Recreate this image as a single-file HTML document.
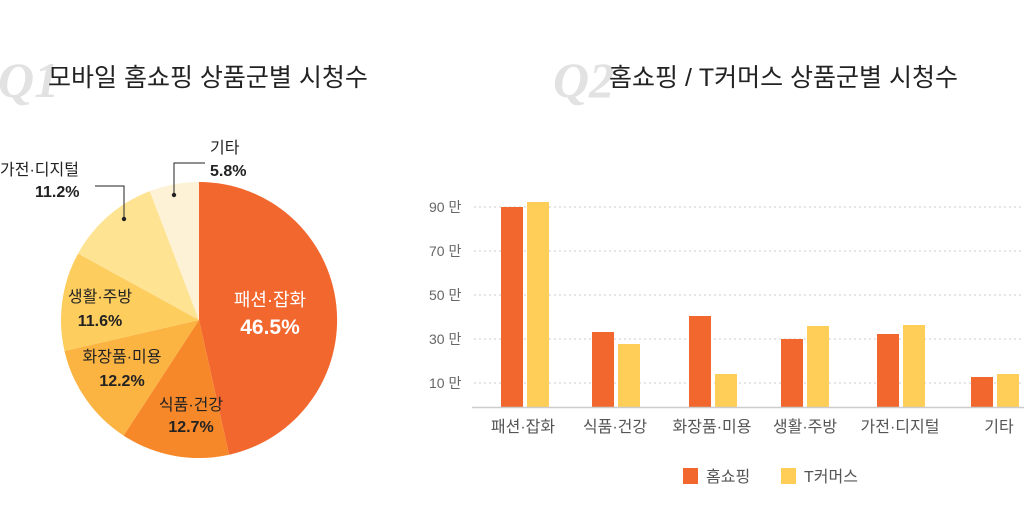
<!DOCTYPE html>
<html><head><meta charset="utf-8"><style>
body{margin:0;width:1024px;height:515px;background:#fff;overflow:hidden;font-family:"Liberation Sans","Noto Sans CJK KR",sans-serif}
</style></head><body>
<svg width="1024" height="515" xmlns="http://www.w3.org/2000/svg" font-family="Liberation Sans, Noto Sans CJK KR, sans-serif">
<text x="-2" y="97" font-family="Liberation Serif, serif" font-style="italic" font-weight="bold" font-size="50" fill="#e2e2e2">Q1</text>
<text x="48" y="86" font-size="25" fill="#222">모바일 홈쇼핑 상품군별 시청수</text>
<text x="553" y="97" font-family="Liberation Serif, serif" font-style="italic" font-weight="bold" font-size="50" fill="#e2e2e2">Q2</text>
<text x="609" y="86" font-size="25" fill="#222">홈쇼핑 / T커머스 상품군별 시청수</text>

<g>
<path d="M199,320 L199,182 A138,138 0 0 1 229.1,454.7 Z" fill="#F2672E"/>
<path d="M199,320 L229.1,454.7 A138,138 0 0 1 123.6,435.6 Z" fill="#F7882A"/>
<path d="M199,320 L123.6,435.6 A138,138 0 0 1 64.5,351 Z" fill="#FBB342"/>
<path d="M199,320 L64.5,351 A138,138 0 0 1 78.1,253.5 Z" fill="#FDCD5E"/>
<path d="M199,320 L78.1,253.5 A138,138 0 0 1 149.8,191.1 Z" fill="#FEE393"/>
<path d="M199,320 L149.8,191.1 A138,138 0 0 1 199,182 Z" fill="#FEF2D6"/>
</g>
<g text-anchor="middle">
<text x="270" y="306" font-size="18" fill="#fff">패션·잡화</text>
<text x="270" y="334" font-size="21" font-weight="bold" fill="#fff">46.5%</text>
<text x="191" y="410" font-size="16" fill="#222">식품·건강</text>
<text x="191" y="432" font-size="16" font-weight="bold" fill="#222">12.7%</text>
<text x="122" y="362" font-size="16" fill="#222">화장품·미용</text>
<text x="122" y="386" font-size="16" font-weight="bold" fill="#222">12.2%</text>
<text x="100" y="302" font-size="16" fill="#222">생활·주방</text>
<text x="100" y="326" font-size="16" font-weight="bold" fill="#222">11.6%</text>
</g>
<text x="0" y="175" font-size="16" fill="#222">가전·디지털</text>
<text x="35" y="197" font-size="16" font-weight="bold" fill="#222">11.2%</text>
<text x="210" y="153" font-size="16" fill="#222">기타</text>
<text x="210" y="176" font-size="16" font-weight="bold" fill="#222">5.8%</text>
<polyline points="95,186 124,186 124,219" fill="none" stroke="#222" stroke-width="1"/>
<circle cx="124" cy="219" r="2.2" fill="#222"/>
<polyline points="205,163 174,163 174,195" fill="none" stroke="#222" stroke-width="1"/>
<circle cx="174" cy="195" r="2.2" fill="#222"/>

<g stroke="#ccc" stroke-dasharray="2,3" stroke-width="1">
<line x1="474" y1="207" x2="1024" y2="207"/>
<line x1="474" y1="251" x2="1024" y2="251"/>
<line x1="474" y1="295" x2="1024" y2="295"/>
<line x1="474" y1="339" x2="1024" y2="339"/>
<line x1="474" y1="383" x2="1024" y2="383"/>
</g>
<g font-size="14" fill="#666">
<text x="429" y="212">90 만</text>
<text x="429" y="256">70 만</text>
<text x="429" y="300">50 만</text>
<text x="429" y="344">30 만</text>
<text x="429" y="388">10 만</text>
</g>
<g fill="#F2672E">
<rect x="501" y="207" width="22" height="200"/>
<rect x="592" y="332" width="22" height="75"/>
<rect x="689" y="316" width="22" height="91"/>
<rect x="781" y="339" width="22" height="68"/>
<rect x="877" y="334" width="22" height="73"/>
<rect x="971" y="377" width="22" height="30"/>
</g>
<g fill="#FECE58">
<rect x="527" y="202" width="22" height="205"/>
<rect x="618" y="344" width="22" height="63"/>
<rect x="715" y="374" width="22" height="33"/>
<rect x="807" y="326" width="22" height="81"/>
<rect x="903" y="325" width="22" height="82"/>
<rect x="997" y="374" width="22" height="33"/>
</g>
<line x1="472" y1="407.5" x2="1024" y2="407.5" stroke="#ccc" stroke-width="1.5"/>
<g font-size="16" fill="#555" text-anchor="middle">
<text x="523" y="432">패션·잡화</text>
<text x="615" y="432">식품·건강</text>
<text x="712" y="432">화장품·미용</text>
<text x="805" y="432">생활·주방</text>
<text x="900" y="432">가전·디지털</text>
<text x="999" y="432">기타</text>
</g>
<rect x="683" y="468" width="15" height="16" fill="#F2672E"/>
<text x="706" y="482" font-size="16" fill="#555">홈쇼핑</text>
<rect x="781" y="468" width="15" height="16" fill="#FECE58"/>
<text x="804" y="482" font-size="16" fill="#555">T커머스</text>
</svg>
</body></html>
